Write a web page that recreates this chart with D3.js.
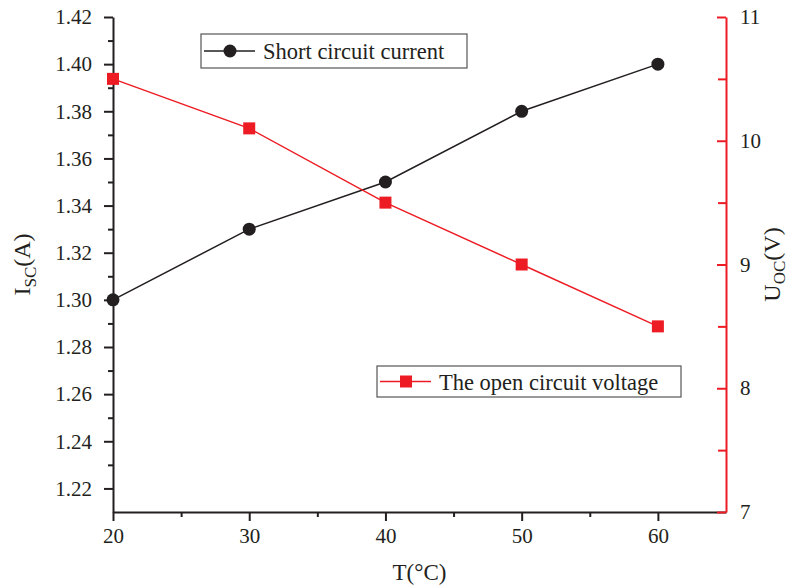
<!DOCTYPE html>
<html>
<head>
<meta charset="utf-8">
<script src="https://cdn.jsdelivr.net/npm/d3@7"></script>
<style>
  body { margin: 0; background: #fff; }
  text { font-family: "Liberation Serif", "Times New Roman", serif; fill: #231f20; }
</style>
</head>
<body>
<script>
// data
var temps = [20, 30, 40, 50, 60];
var iscValues = [1.30, 1.33, 1.35, 1.38, 1.40];
var uocValues = [10.5, 10.1, 9.5, 9.0, 8.5];
var leftTicks = [1.22, 1.24, 1.26, 1.28, 1.30, 1.32, 1.34, 1.36, 1.38, 1.40, 1.42];
var rightTicks = [7, 8, 9, 10, 11];
var xTicks = [20, 30, 40, 50, 60];

var svgWidth = 789, svgHeight = 587;
var margin = { top: 17, right: 63, bottom: 75, left: 113 };
var width = svgWidth - margin.left - margin.right;
var height = svgHeight - margin.top - margin.bottom;

var svg = d3.select("body").append("svg")
  .attr("width", svgWidth)
  .attr("height", svgHeight);

var chartGroup = svg.append("g")
  .attr("transform", `translate(${margin.left}, ${margin.top})`);

var xScale = d3.scaleLinear().domain([20, 65]).range([0, width]);
var yLeft = d3.scaleLinear().domain([1.21, 1.42]).range([height, 0]);
var yRight = d3.scaleLinear().domain([7, 11]).range([height, 0]);

var black = "#231f20", red = "#ed1c24";
var serif = "'Liberation Serif', 'Times New Roman', serif";

// minor ticks first
chartGroup.append("g")
  .attr("transform", `translate(0, ${height})`)
  .call(d3.axisBottom(xScale).tickValues([25, 35, 45, 55]).tickSize(5).tickFormat(""))
  .call(g => g.select(".domain").remove())
  .call(g => g.selectAll("line").attr("stroke", black).attr("stroke-width", 2));

chartGroup.append("g")
  .call(d3.axisLeft(yLeft).tickValues(d3.range(1.23, 1.42, 0.02)).tickSize(5).tickFormat(""))
  .call(g => g.select(".domain").remove())
  .call(g => g.selectAll("line").attr("stroke", black).attr("stroke-width", 2));

chartGroup.append("g")
  .attr("transform", `translate(${width}, 0)`)
  .call(d3.axisRight(yRight).tickValues([7.5, 8.5, 9.5, 10.5]).tickSize(-8).tickFormat(""))
  .call(g => g.select(".domain").remove())
  .call(g => g.selectAll("line").attr("stroke", red).attr("stroke-width", 2));

// main axes
var xAxis = chartGroup.append("g")
  .attr("transform", `translate(0, ${height})`)
  .call(d3.axisBottom(xScale).tickValues(xTicks).tickSize(9).tickPadding(7).tickSizeOuter(0));
xAxis.select(".domain").attr("stroke", black).attr("stroke-width", 2);
xAxis.selectAll("line").attr("stroke", black).attr("stroke-width", 2);

var leftAxis = chartGroup.append("g")
  .call(d3.axisLeft(yLeft).tickValues(leftTicks).tickSize(9).tickPadding(12).tickSizeOuter(0)
    .tickFormat(d3.format(".2f")));
leftAxis.select(".domain").attr("stroke", black).attr("stroke-width", 2);
leftAxis.selectAll("line").attr("stroke", black).attr("stroke-width", 2);

var rightAxis = chartGroup.append("g")
  .attr("transform", `translate(${width}, 0)`)
  .call(d3.axisRight(yRight).tickValues(rightTicks).tickSize(-9).tickPadding(14).tickSizeOuter(0)
    .tickFormat(d3.format("d")));
rightAxis.select(".domain").attr("stroke", red).attr("stroke-width", 2);
rightAxis.selectAll("line").attr("stroke", red).attr("stroke-width", 2);

[xAxis, leftAxis, rightAxis].forEach(function(ax) {
  ax.attr("font-family", null).attr("font-size", null);
  ax.selectAll("text").style("font-family", serif).style("font-size", "21px").attr("fill", black);
});

// axis titles
var leftTitle = chartGroup.append("text")
  .attr("transform", `translate(${-margin.left + 30}, ${height / 2}) rotate(-90)`)
  .attr("text-anchor", "middle")
  .style("font-size", "24px");
leftTitle.append("tspan").text("I");
leftTitle.append("tspan").attr("dy", 6).style("font-size", "17px").text("SC");
leftTitle.append("tspan").attr("dy", -6).text("(A)");

var rightTitle = chartGroup.append("text")
  .attr("transform", `translate(${width + 54}, ${height / 2}) rotate(-90)`)
  .attr("text-anchor", "middle")
  .style("font-size", "24px");
rightTitle.append("tspan").text("U");
rightTitle.append("tspan").attr("dy", 5).style("font-size", "17px").text("OC");
rightTitle.append("tspan").attr("dy", -5).text("(V)");

chartGroup.append("text")
  .attr("x", xScale(42.5))
  .attr("y", height + 68)
  .attr("text-anchor", "middle")
  .style("font-size", "23px")
  .text("T(°C)");

// series
var lineIsc = d3.line().x((d, i) => xScale(temps[i])).y(d => yLeft(d));
var lineUoc = d3.line().x((d, i) => xScale(temps[i])).y(d => yRight(d));

chartGroup.append("path")
  .datum(iscValues)
  .attr("d", lineIsc)
  .attr("fill", "none")
  .attr("stroke", black)
  .attr("stroke-width", 1.5);

chartGroup.append("path")
  .datum(uocValues)
  .attr("d", lineUoc)
  .attr("fill", "none")
  .attr("stroke", red)
  .attr("stroke-width", 1.5);

chartGroup.selectAll(".isc")
  .data(iscValues)
  .enter()
  .append("circle")
  .attr("cx", (d, i) => xScale(temps[i]))
  .attr("cy", d => yLeft(d))
  .attr("r", 6.5)
  .attr("fill", black);

chartGroup.selectAll(".uoc")
  .data(uocValues)
  .enter()
  .append("rect")
  .attr("x", (d, i) => xScale(temps[i]) - 6)
  .attr("y", d => yRight(d) - 6)
  .attr("width", 12)
  .attr("height", 12)
  .attr("fill", red);

// legends
function legend(x, y, w, h, color, marker, label) {
  var g = svg.append("g").attr("transform", `translate(${x}, ${y})`);
  g.append("rect").attr("width", w).attr("height", h)
    .attr("fill", "#fff").attr("stroke", "#555").attr("stroke-width", 1.2);
  g.append("line").attr("x1", 3).attr("x2", 54).attr("y1", h / 2).attr("y2", h / 2)
    .attr("stroke", color).attr("stroke-width", 1.5);
  if (marker === "circle") {
    g.append("circle").attr("cx", 29).attr("cy", h / 2).attr("r", 6.5).attr("fill", color);
  } else {
    g.append("rect").attr("x", 23).attr("y", h / 2 - 6).attr("width", 12).attr("height", 12).attr("fill", color);
  }
  g.append("text").attr("x", 62).attr("y", h / 2 + 8).style("font-size", "22.5px").text(label);
}

legend(201, 34, 266, 34, black, "circle", "Short circuit current");
legend(377, 366, 304, 31, red, "square", "The open circuit voltage");
</script>
</body>
</html>
